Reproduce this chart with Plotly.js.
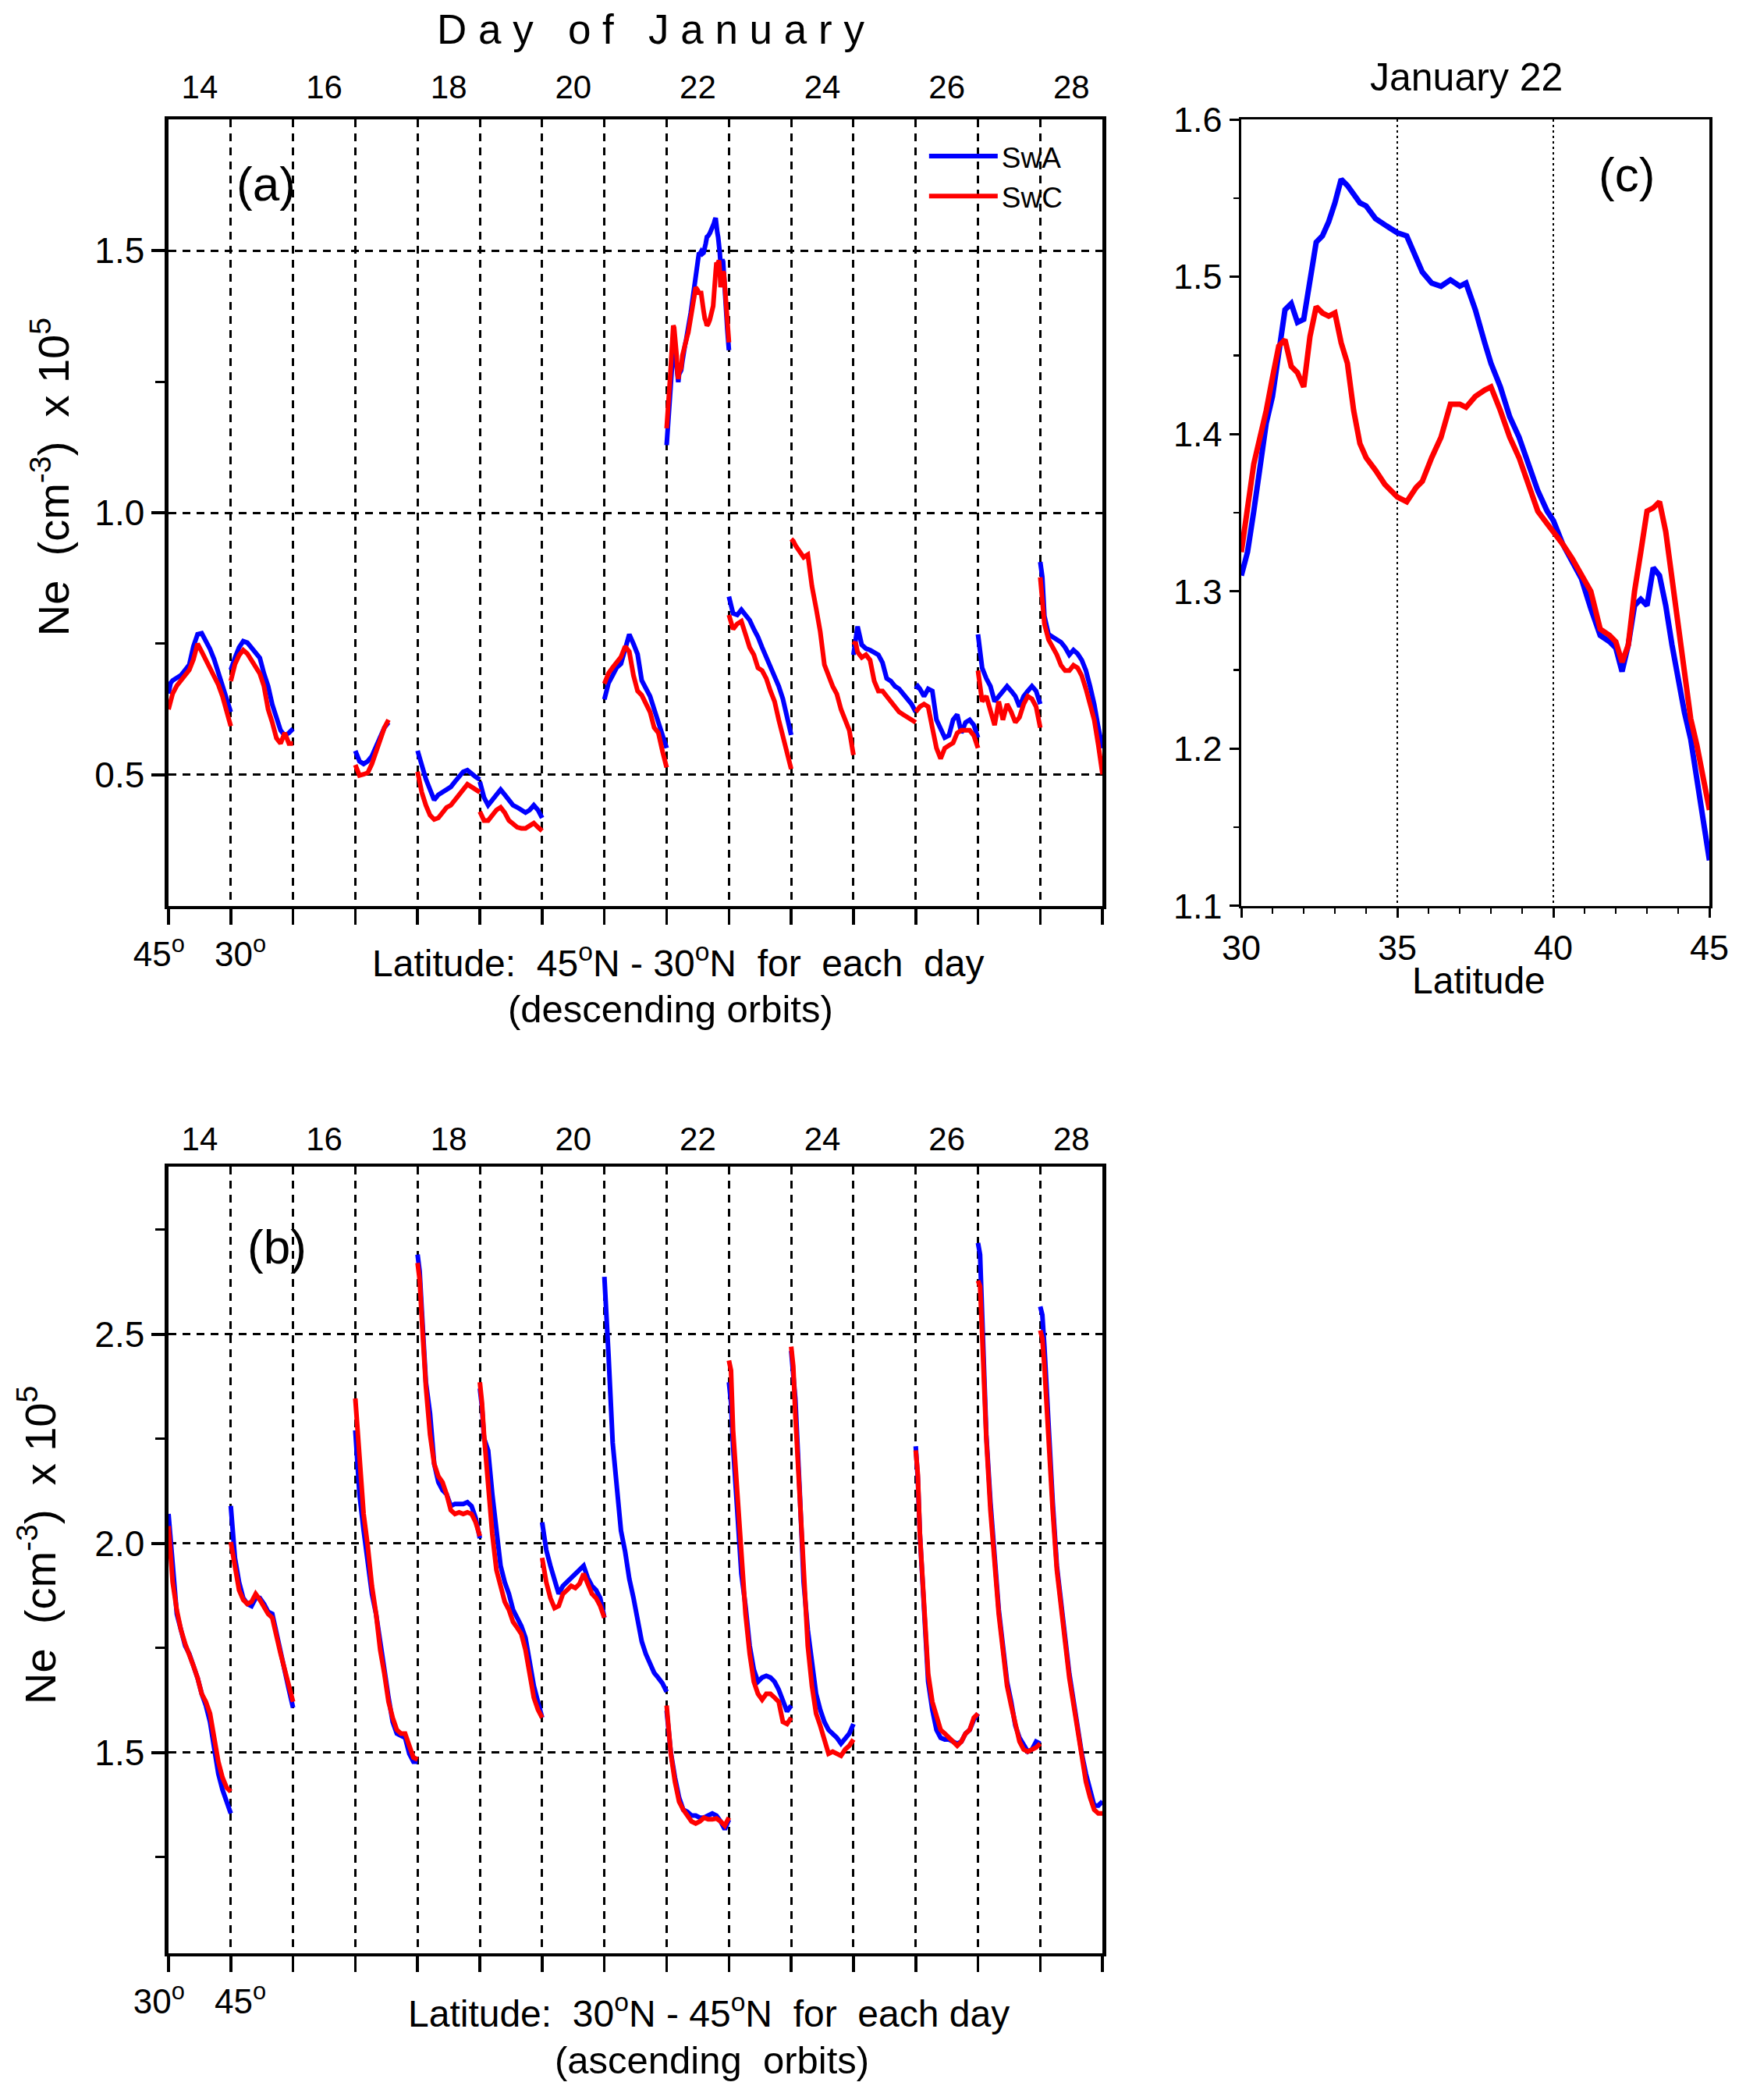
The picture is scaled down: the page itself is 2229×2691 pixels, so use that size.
<!DOCTYPE html>
<html>
<head>
<meta charset="utf-8">
<script src="https://cdn.plot.ly/plotly-3.0.1.min.js"></script>
<style>
  html, body { margin: 0; padding: 0; background: #fff; }
  #chart { width: 2229px; height: 2691px; }
</style>
</head>
<body>
<div id="chart"></div>
<script>
// days shown along the top axis
const days = [14, 15, 16, 17, 18, 19, 20, 21, 22, 23, 24, 25, 26, 27, 28];
const dayLabels = [14, 16, 18, 20, 22, 24, 26, 28];

// latitude samples inside one day segment
const latDesc = [45, 44.5, 44, 43, 42, 41, 40, 39, 38, 37, 36, 35, 34, 33, 32, 31, 30];
const latAsc = [30, 30.5, 31, 32, 33, 34, 35, 36, 37, 38, 39, 40, 41, 42, 43, 44, 45];

// (a) descending orbits, Ne x 1e5, one row per day (null = no pass)
const descSwA = [
  [0.655, 0.675, 0.68, 0.685, 0.69, 0.70, 0.71, 0.745, 0.768, 0.77, 0.755, 0.74, 0.72, 0.695, 0.672, 0.648, 0.62], // 14
  [0.70, 0.715, 0.723, 0.743, 0.755, 0.752, 0.743, 0.733, 0.723, 0.693, 0.669, 0.634, 0.61, 0.585, 0.575, 0.58, 0.588], // 15
  null, // 16
  [0.546, 0.533, 0.526, 0.521, 0.526, 0.536, 0.556, 0.575, 0.59, 0.60, null, null, null, null, null, null, null], // 17
  [0.546, 0.531, 0.516, 0.492, 0.472, 0.452, 0.462, 0.467, 0.472, 0.477, 0.487, 0.496, 0.506, 0.509, 0.501, 0.496, 0.491], // 18
  [0.487, 0.472, 0.457, 0.442, 0.452, 0.462, 0.472, 0.462, 0.452, 0.442, 0.438, 0.433, 0.428, 0.433, 0.442, 0.433, 0.418], // 19
  null, // 20
  [0.644, 0.66, 0.675, 0.69, 0.705, 0.712, 0.74, 0.768, 0.75, 0.73, 0.68, 0.665, 0.65, 0.625, 0.60, 0.575, 0.551], // 21
  null, // 22 -> drawn from the January 22 profile below
  [0.84, 0.827, 0.808, 0.805, 0.815, 0.805, 0.795, 0.778, 0.763, 0.743, 0.724, 0.709, 0.689, 0.669, 0.645, 0.61, 0.576], // 23
  null, // 24
  [0.729, 0.758, 0.783, 0.748, 0.741, 0.738, 0.733, 0.729, 0.714, 0.684, 0.679, 0.669, 0.664, 0.655, 0.645, 0.635, 0.62], // 25
  [0.664, 0.669, 0.664, 0.65, 0.664, 0.66, 0.605, 0.585, 0.571, 0.575, 0.605, 0.615, 0.58, 0.60, 0.605, 0.595, 0.571], // 26
  [0.768, 0.738, 0.704, 0.684, 0.669, 0.64, 0.65, 0.66, 0.669, 0.66, 0.65, 0.63, 0.65, 0.66, 0.669, 0.66, 0.635], // 27
  [0.906, 0.877, 0.803, 0.768, 0.763, 0.758, 0.753, 0.743, 0.729, 0.738, 0.731, 0.719, 0.699, 0.669, 0.635, 0.59, 0.551]  // 28
];
const descSwC = [
  [0.625, 0.645, 0.655, 0.67, 0.68, 0.688, 0.70, 0.72, 0.75, 0.735, 0.72, 0.705, 0.69, 0.672, 0.65, 0.622, 0.593],
  [0.679, 0.694, 0.711, 0.728, 0.738, 0.731, 0.718, 0.703, 0.693, 0.669, 0.625, 0.60, 0.57, 0.56, 0.58, 0.56, 0.56],
  null,
  [0.519, 0.506, 0.499, 0.501, 0.504, 0.521, 0.546, 0.57, 0.59, 0.605, null, null, null, null, null, null, null],
  [0.506, 0.487, 0.467, 0.442, 0.423, 0.415, 0.418, 0.428, 0.438, 0.442, 0.452, 0.462, 0.472, 0.482, 0.477, 0.472, 0.467],
  [0.43, 0.423, 0.413, 0.413, 0.423, 0.433, 0.438, 0.428, 0.413, 0.406, 0.40, 0.398, 0.398, 0.403, 0.408, 0.40, 0.393],
  null,
  [0.674, 0.684, 0.694, 0.705, 0.715, 0.725, 0.745, 0.735, 0.69, 0.66, 0.652, 0.635, 0.62, 0.59, 0.58, 0.545, 0.514],
  null,
  [0.805, 0.788, 0.778, 0.788, 0.793, 0.768, 0.743, 0.729, 0.704, 0.699, 0.684, 0.66, 0.64, 0.605, 0.576, 0.541, 0.511],
  [0.95, 0.946, 0.938, 0.926, 0.915, 0.92, 0.86, 0.818, 0.773, 0.71, 0.689, 0.669, 0.654, 0.625, 0.605, 0.585, 0.538],
  [0.748, 0.753, 0.734, 0.724, 0.729, 0.719, 0.679, 0.66, 0.66, 0.65, 0.64, 0.63, 0.62, 0.615, 0.61, 0.605, 0.60],
  [0.62, 0.625, 0.63, 0.635, 0.63, 0.59, 0.551, 0.531, 0.551, 0.556, 0.561, 0.58, 0.585, 0.585, 0.585, 0.575, 0.551],
  [0.699, 0.66, 0.64, 0.65, 0.62, 0.595, 0.64, 0.605, 0.635, 0.62, 0.60, 0.61, 0.635, 0.65, 0.645, 0.63, 0.59],
  [0.877, 0.837, 0.788, 0.758, 0.743, 0.729, 0.709, 0.699, 0.699, 0.709, 0.704, 0.689, 0.664, 0.635, 0.605, 0.556, 0.501]
];

// (b) ascending orbits
const ascSwA = [
  [2.07, 2.003, 1.946, 1.831, 1.793, 1.755, 1.736, 1.707, 1.678, 1.64, 1.612, 1.573, 1.516, 1.449, 1.411, 1.383, 1.354],
  [2.089, 2.031, 1.965, 1.907, 1.869, 1.855, 1.85, 1.869, 1.869, 1.855, 1.836, 1.831, 1.783, 1.736, 1.698, 1.65, 1.607],
  null,
  [2.27, 2.194, 2.117, 2.031, 1.955, 1.879, 1.831, 1.755, 1.698, 1.631, 1.573, 1.545, 1.54, 1.535, 1.497, 1.478, 1.478],
  [2.69, 2.65, 2.56, 2.385, 2.31, 2.19, 2.146, 2.127, 2.117, 2.089, 2.094, 2.094, 2.094, 2.098, 2.089, 2.06, 2.012],
  [2.37, 2.327, 2.251, 2.222, 2.117, 2.041, 1.946, 1.907, 1.879, 1.841, 1.822, 1.802, 1.774, 1.717, 1.659, 1.621, 1.583],
  [2.05, 2.022, 1.984, 1.946, 1.907, 1.879, 1.898, 1.907, 1.917, 1.927, 1.936, 1.946, 1.917, 1.898, 1.888, 1.869, 1.822],
  [2.637, 2.556, 2.45, 2.24, 2.125, 2.03, 1.98, 1.915, 1.87, 1.82, 1.765, 1.735, 1.71, 1.69, 1.678, 1.665, 1.645],
  [1.60, 1.555, 1.50, 1.44, 1.392, 1.363, 1.358, 1.349, 1.349, 1.344, 1.344, 1.349, 1.354, 1.349, 1.335, 1.316, 1.339],
  [2.385, 2.337, 2.232, 2.06, 1.927, 1.85, 1.755, 1.698, 1.669, 1.679, 1.683, 1.679, 1.669, 1.65, 1.621, 1.598, 1.612],
  [2.46, 2.385, 2.346, 2.136, 1.907, 1.793, 1.707, 1.64, 1.602, 1.573, 1.554, 1.545, 1.535, 1.521, 1.535, 1.545, 1.568],
  null,
  [2.232, 2.155, 2.022, 1.82, 1.669, 1.602, 1.554, 1.535, 1.531, 1.531, 1.526, 1.521, 1.526, 1.545, 1.554, 1.578, 1.593],
  [2.718, 2.69, 2.546, 2.26, 2.098, 1.965, 1.841, 1.755, 1.669, 1.621, 1.564, 1.535, 1.516, 1.502, 1.507, 1.526, 1.521],
  [2.566, 2.546, 2.47, 2.26, 2.098, 1.946, 1.85, 1.774, 1.688, 1.621, 1.554, 1.497, 1.449, 1.411, 1.373, 1.373, 1.383]
];
const ascSwC = [
  [2.041, 1.974, 1.907, 1.84, 1.793, 1.76, 1.736, 1.707, 1.678, 1.64, 1.621, 1.593, 1.535, 1.478, 1.44, 1.416, 1.406],
  [2.003, 1.974, 1.936, 1.888, 1.865, 1.855, 1.86, 1.879, 1.865, 1.845, 1.831, 1.822, 1.774, 1.736, 1.698, 1.66, 1.621],
  null,
  [2.346, 2.28, 2.194, 2.07, 1.993, 1.898, 1.831, 1.745, 1.688, 1.621, 1.583, 1.554, 1.545, 1.545, 1.516, 1.488, 1.483],
  [2.67, 2.63, 2.54, 2.375, 2.26, 2.19, 2.16, 2.146, 2.117, 2.079, 2.07, 2.074, 2.07, 2.074, 2.07, 2.05, 2.017],
  [2.385, 2.337, 2.26, 2.136, 2.022, 1.936, 1.898, 1.86, 1.841, 1.812, 1.798, 1.783, 1.745, 1.688, 1.631, 1.602, 1.583],
  [1.965, 1.936, 1.907, 1.869, 1.845, 1.85, 1.879, 1.888, 1.898, 1.893, 1.903, 1.927, 1.903, 1.879, 1.869, 1.85, 1.822],
  null,
  [1.612, 1.564, 1.497, 1.43, 1.382, 1.363, 1.349, 1.335, 1.33, 1.335, 1.344, 1.34, 1.34, 1.342, 1.335, 1.325, 1.344],
  [2.437, 2.413, 2.27, 2.117, 1.946, 1.831, 1.736, 1.669, 1.64, 1.626, 1.64, 1.64, 1.631, 1.621, 1.573, 1.568, 1.583],
  [2.47, 2.423, 2.308, 2.117, 1.927, 1.755, 1.659, 1.593, 1.564, 1.526, 1.497, 1.502, 1.497, 1.492, 1.507, 1.516, 1.531],
  null,
  [2.222, 2.165, 2.022, 1.831, 1.688, 1.621, 1.583, 1.554, 1.545, 1.535, 1.526, 1.516, 1.526, 1.545, 1.554, 1.583, 1.593],
  [2.628, 2.614, 2.50, 2.251, 2.079, 1.946, 1.831, 1.745, 1.659, 1.612, 1.564, 1.526, 1.507, 1.502, 1.507, 1.512, 1.521],
  [2.509, 2.49, 2.423, 2.241, 2.079, 1.936, 1.841, 1.764, 1.678, 1.612, 1.545, 1.488, 1.43, 1.392, 1.363, 1.354, 1.354]
];

// (c) January 22 descending pass vs latitude
const latC = [30, 30.2, 30.4, 30.6, 30.8, 31, 31.2, 31.4, 31.6, 31.8, 32, 32.2, 32.4, 32.6, 32.8, 33, 33.2, 33.4, 33.6, 33.8, 34,
  34.3, 34.6, 35, 35.3, 35.6, 35.8, 36.1, 36.4, 36.7, 37, 37.2, 37.5, 37.8, 38, 38.3, 38.6, 38.9, 39.2, 39.5, 39.8, 40, 40.3, 40.6, 40.9, 41.2, 41.5, 41.8,
  42, 42.2, 42.4, 42.6, 42.8, 43, 43.2, 43.4, 43.6, 43.8, 44, 44.2, 44.4, 44.6, 44.8, 45];
const jan22SwA = [1.31, 1.325, 1.351, 1.377, 1.407, 1.424, 1.454, 1.479, 1.483, 1.471, 1.473, 1.496, 1.522, 1.526, 1.535, 1.547, 1.562, 1.558, 1.552, 1.547, 1.545,
  1.537, 1.533, 1.528, 1.526, 1.513, 1.503, 1.496, 1.494, 1.498, 1.494, 1.496, 1.479, 1.458, 1.445, 1.43, 1.411, 1.398, 1.381, 1.364, 1.351, 1.345, 1.33, 1.319, 1.308, 1.289, 1.272, 1.268,
  1.264, 1.249, 1.266, 1.291, 1.295, 1.291, 1.315, 1.31, 1.291, 1.266, 1.244, 1.223, 1.206, 1.18, 1.15, 1.129];
const jan22SwC = [1.325, 1.351, 1.381, 1.398, 1.415, 1.436, 1.456, 1.46, 1.443, 1.439, 1.43, 1.462, 1.481, 1.477, 1.475, 1.477, 1.458, 1.445, 1.415, 1.394, 1.385,
  1.377, 1.368, 1.36, 1.357, 1.366, 1.37, 1.385, 1.398, 1.419, 1.419, 1.417, 1.424, 1.428, 1.43, 1.415, 1.398, 1.385, 1.368, 1.351, 1.343, 1.338, 1.33, 1.321, 1.31, 1.3, 1.276, 1.272,
  1.268, 1.255, 1.266, 1.3, 1.325, 1.351, 1.353, 1.357, 1.338, 1.308, 1.279, 1.253, 1.219, 1.202, 1.18, 1.161];

const BLUE = '#0000ff';
const RED = '#ff0000';
const FONT = 'Liberation Sans, Arial, sans-serif';
const NB = '\u00a0';

// x position of a sample: day index + fraction of the 15 degree span
const xDesc = (i, lat) => i + (45 - lat) / 15;
const xAsc = (i, lat) => i + (lat - 30) / 15;

function joinDays(rows, lats, toX, extra) {
  const xs = [], ys = [];
  rows.forEach((row, i) => {
    if (!row) return;
    row.forEach((v, j) => { xs.push(toX(i, lats[j])); ys.push(v); });
    xs.push(null); ys.push(null);
  });
  if (extra) {
    extra.ys.forEach((v, j) => { xs.push(toX(extra.day, extra.lats[j])); ys.push(v); });
  }
  return { xs, ys };
}

const idx22 = days.indexOf(22);
const aA = joinDays(descSwA, latDesc, xDesc, { day: idx22, lats: latC, ys: jan22SwA });
const aC = joinDays(descSwC, latDesc, xDesc, { day: idx22, lats: latC, ys: jan22SwC });
const bA = joinDays(ascSwA, latAsc, xAsc);
const bC = joinDays(ascSwC, latAsc, xAsc);

const lw = 6;
const traces = [
  { x: aA.xs, y: aA.ys, xaxis: 'x', yaxis: 'y', mode: 'lines', name: 'SwA', line: { color: BLUE, width: lw }, connectgaps: false },
  { x: aC.xs, y: aC.ys, xaxis: 'x', yaxis: 'y', mode: 'lines', name: 'SwC', line: { color: RED, width: lw }, connectgaps: false },
  { x: bA.xs, y: bA.ys, xaxis: 'x3', yaxis: 'y2', mode: 'lines', showlegend: false, line: { color: BLUE, width: lw }, connectgaps: false },
  { x: bC.xs, y: bC.ys, xaxis: 'x3', yaxis: 'y2', mode: 'lines', showlegend: false, line: { color: RED, width: lw }, connectgaps: false },
  { x: latC, y: jan22SwA, xaxis: 'x5', yaxis: 'y3', mode: 'lines', showlegend: false, line: { color: BLUE, width: 7 } },
  { x: latC, y: jan22SwC, xaxis: 'x5', yaxis: 'y3', mode: 'lines', showlegend: false, line: { color: RED, width: 7 } },
  // keep the top day axes alive
  { x: [null], y: [null], xaxis: 'x2', yaxis: 'y', showlegend: false, hoverinfo: 'skip' },
  { x: [null], y: [null], xaxis: 'x4', yaxis: 'y2', showlegend: false, hoverinfo: 'skip' }
];

// day boundaries: the first two carry the latitude labels, the rest are minor ticks
const innerBounds = days.map((d, i) => i + 1).slice(1);
const dayTickVals = dayLabels.map(d => days.indexOf(d) + 0.5);
const GRID = { gridcolor: '#000', gridwidth: 3, griddash: '10px,8px' };

function bottomAxis(anchor, first, second) {
  return Object.assign({
    domain: [0.0969, 0.634], anchor: anchor, range: [0, days.length],
    tickmode: 'array', tickvals: [0, 1],
    ticktext: [first + NB + NB, NB + NB + second], tickangle: 0,
    ticks: 'outside', ticklen: 20, tickwidth: 3.5, tickcolor: '#000',
    minor: Object.assign({ tickmode: 'array', tickvals: innerBounds, ticks: 'outside', ticklen: 20, tickwidth: 3.5, tickcolor: '#000', showgrid: true }, GRID),
    showgrid: true,
    showline: true, linewidth: 4.5, linecolor: '#000', mirror: true, zeroline: false,
    tickfont: { family: FONT, size: 44, color: '#000' }
  }, GRID);
}
function topAxis(over, len) {
  return {
    overlaying: over, side: 'top', anchor: over === 'x' ? 'y' : 'y2', range: [0, days.length],
    tickmode: 'array', tickvals: dayTickVals, ticktext: dayLabels.map(String), tickangle: 0,
    ticks: 'outside', ticklen: len, tickcolor: 'rgba(0,0,0,0)',
    showgrid: false, zeroline: false, showline: true, linewidth: 4.5, linecolor: '#000',
    tickfont: { family: FONT, size: 42, color: '#000' }
  };
}
function neAxis(domain, range, vals, minor) {
  return Object.assign({
    domain: domain, anchor: domain[0] > 0.5 ? 'x' : 'x3', range: range,
    tickmode: 'array', tickvals: vals, ticktext: vals.map(v => v.toFixed(1)),
    ticks: 'outside', ticklen: 17, tickwidth: 4, tickcolor: '#000',
    minor: { tickmode: 'array', tickvals: minor, ticks: 'outside', ticklen: 12, tickwidth: 3, tickcolor: '#000', showgrid: false },
    showgrid: true,
    showline: true, linewidth: 4.5, linecolor: '#000', mirror: true, zeroline: false,
    tickfont: { family: FONT, size: 46, color: '#000' }
  }, GRID);
}

const ann = (x, y, text, size, extra) => Object.assign({
  xref: 'paper', yref: 'paper', x: x, y: y, text: text, showarrow: false,
  xanchor: 'center', yanchor: 'middle', font: { family: FONT, size: size, color: '#000' }
}, extra || {});

const deg = '<sup>o</sup>';
const neTitle = 'Ne' + NB + NB + '(cm<sup>-3</sup>)' + NB + NB + 'x 10<sup>5</sup>';

const layout = {
  width: 2229, height: 2691,
  margin: { l: 0, r: 0, t: 0, b: 0 },
  paper_bgcolor: '#fff', plot_bgcolor: 'rgba(0,0,0,0)',
  font: { family: FONT, color: '#000' },
  xaxis: bottomAxis('y', '45' + deg, '30' + deg),
  xaxis2: topAxis('x', 6),
  yaxis: neAxis([0.5686, 0.9431], [0.25, 1.75], [0.5, 1.0, 1.5], [0.75, 1.25]),
  xaxis3: bottomAxis('y2', '30' + deg, '45' + deg),
  xaxis4: topAxis('x3', 0),
  yaxis2: neAxis([0.0699, 0.4444], [1.02, 2.9], [1.5, 2.0, 2.5], [1.25, 1.75, 2.25, 2.75]),
  xaxis5: {
    domain: [0.7138, 0.983], anchor: 'y3', range: [30, 45],
    tickmode: 'array', tickvals: [30, 35, 40, 45], tickangle: 0,
    ticks: 'outside', ticklen: 12, tickwidth: 3, tickcolor: '#000',
    minor: { dtick: 1, ticks: 'outside', ticklen: 7, tickwidth: 2.5, tickcolor: '#000', showgrid: false },
    showgrid: true, gridcolor: '#000', gridwidth: 2, griddash: '3px,4px',
    showline: true, linewidth: 3.5, linecolor: '#000', mirror: true, zeroline: false,
    tickfont: { family: FONT, size: 45, color: '#000' }
  },
  yaxis3: {
    domain: [0.5686, 0.9431], anchor: 'x5', range: [1.1, 1.6],
    tickmode: 'array', tickvals: [1.1, 1.2, 1.3, 1.4, 1.5, 1.6], ticktext: ['1.1', '1.2', '1.3', '1.4', '1.5', '1.6'],
    ticks: 'outside', ticklen: 12, tickwidth: 3, tickcolor: '#000',
    minor: { tickmode: 'array', tickvals: [1.15, 1.25, 1.35, 1.45, 1.55], ticks: 'outside', ticklen: 7, tickwidth: 2.5, tickcolor: '#000', showgrid: false },
    showgrid: false, showline: true, linewidth: 3.5, linecolor: '#000', mirror: true, zeroline: false,
    tickfont: { family: FONT, size: 45, color: '#000' }
  },
  showlegend: true,
  legend: {
    x: 0.532, y: 0.937, xanchor: 'left', yanchor: 'top',
    bgcolor: 'rgba(0,0,0,0)', borderwidth: 0, itemwidth: 88,
    tracegroupgap: 0, font: { family: FONT, size: 37, color: '#000' }
  },
  annotations: [
    ann(0.374, 0.9859, 'D a y' + NB + NB + ' o f' + NB + NB + ' J a n u a r y', 53),
    ann(0.153, 0.9125, '(a)', 62),
    ann(0.1593, 0.4065, '(b)', 62),
    ann(0.9354, 0.9171, '(c)', 62),
    ann(0.0292, 0.7729, neTitle, 56, { textangle: -90 }),
    ann(0.0215, 0.2642, neTitle, 56, { textangle: -90 }),
    ann(0.3899, 0.5425, 'Latitude:' + NB + NB + '45' + deg + 'N - 30' + deg + 'N' + NB + NB + 'for' + NB + NB + 'each' + NB + NB + 'day', 48),
    ann(0.3854, 0.5195, '(descending orbits)', 49),
    ann(0.4078, 0.04236, 'Latitude:' + NB + NB + '30' + deg + 'N - 45' + deg + 'N' + NB + NB + 'for' + NB + NB + 'each day', 48),
    ann(0.4092, 0.01895, '(ascending' + NB + NB + 'orbits)', 49),
    ann(0.843, 0.9632, 'January 22', 50),
    ann(0.8502, 0.5329, 'Latitude', 48)
  ]
};

Plotly.newPlot('chart', traces, layout, { staticPlot: true, displayModeBar: false });
</script>
</body>
</html>
